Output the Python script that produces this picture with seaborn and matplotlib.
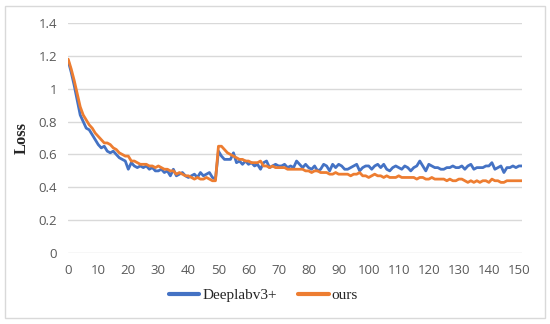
import pandas as pd
import matplotlib.pyplot as plt
import seaborn as sns
from matplotlib.patches import Rectangle

# loss per epoch (epochs 0..151)
deeplab_loss = [
    1.17, 1.10, 1.02, 0.93, 0.84, 0.80, 0.76, 0.75, 0.72, 0.69,
    0.66, 0.64, 0.65, 0.62, 0.61, 0.62, 0.60, 0.58, 0.57, 0.56,
    0.51, 0.55, 0.53, 0.52, 0.53, 0.52, 0.53, 0.51, 0.52, 0.50,
    0.50, 0.51, 0.49, 0.50, 0.47, 0.51, 0.47, 0.48, 0.49, 0.47,
    0.46, 0.47, 0.48, 0.46, 0.49, 0.47, 0.48, 0.49, 0.46, 0.45,
    0.62, 0.59, 0.57, 0.57, 0.57, 0.61, 0.55, 0.56, 0.54, 0.56,
    0.54, 0.55, 0.53, 0.54, 0.51, 0.55, 0.56, 0.52, 0.53, 0.54,
    0.53, 0.53, 0.54, 0.52, 0.53, 0.52, 0.56, 0.54, 0.52, 0.54,
    0.52, 0.51, 0.53, 0.50, 0.51, 0.54, 0.53, 0.50, 0.54, 0.52,
    0.54, 0.53, 0.51, 0.51, 0.52, 0.53, 0.54, 0.50, 0.52, 0.53,
    0.53, 0.51, 0.53, 0.54, 0.52, 0.54, 0.51, 0.50, 0.52, 0.53,
    0.52, 0.51, 0.53, 0.52, 0.50, 0.52, 0.53, 0.56, 0.53, 0.50,
    0.54, 0.53, 0.52, 0.52, 0.51, 0.51, 0.52, 0.52, 0.53, 0.52,
    0.52, 0.53, 0.51, 0.53, 0.54, 0.51, 0.52, 0.52, 0.52, 0.53,
    0.53, 0.55, 0.51, 0.52, 0.53, 0.49, 0.52, 0.52, 0.53, 0.52,
    0.53, 0.53,
]
ours_loss = [
    1.18, 1.12, 1.05, 0.97, 0.89, 0.84, 0.81, 0.78, 0.76, 0.73,
    0.71, 0.69, 0.67, 0.67, 0.66, 0.64, 0.63, 0.61, 0.60, 0.59,
    0.59, 0.56, 0.56, 0.55, 0.54, 0.54, 0.54, 0.53, 0.53, 0.52,
    0.53, 0.52, 0.51, 0.51, 0.50, 0.50, 0.48, 0.49, 0.48, 0.47,
    0.47, 0.46, 0.45, 0.46, 0.45, 0.45, 0.46, 0.45, 0.44, 0.44,
    0.65, 0.65, 0.63, 0.61, 0.60, 0.59, 0.58, 0.57, 0.57, 0.56,
    0.56, 0.55, 0.55, 0.55, 0.56, 0.53, 0.53, 0.52, 0.53, 0.52,
    0.52, 0.52, 0.52, 0.51, 0.51, 0.51, 0.51, 0.51, 0.51, 0.50,
    0.50, 0.49, 0.50, 0.50, 0.49, 0.49, 0.49, 0.48, 0.48, 0.49,
    0.48, 0.48, 0.48, 0.48, 0.47, 0.48, 0.48, 0.49, 0.47, 0.47,
    0.46, 0.47, 0.48, 0.47, 0.47, 0.46, 0.47, 0.46, 0.46, 0.46,
    0.47, 0.46, 0.46, 0.46, 0.46, 0.46, 0.45, 0.46, 0.46, 0.45,
    0.45, 0.46, 0.45, 0.45, 0.45, 0.45, 0.44, 0.45, 0.44, 0.44,
    0.45, 0.45, 0.44, 0.43, 0.44, 0.43, 0.44, 0.43, 0.44, 0.44,
    0.43, 0.45, 0.44, 0.44, 0.43, 0.43, 0.44, 0.44, 0.44, 0.44,
    0.44, 0.44,
]
series_names = ['Deeplabv3+', 'ours']
series_colors = ['#4472C4', '#ED7D31']
x_ticks = list(range(0, 151, 10))
y_ticks = [0, 0.2, 0.4, 0.6, 0.8, 1.0, 1.2, 1.4]
y_tick_labels = ['0', '0.2', '0.4', '0.6', '0.8', '1', '1.2', '1.4']

epochs = list(range(len(deeplab_loss)))
df = pd.concat([
    pd.DataFrame({'epoch': epochs, 'loss': deeplab_loss, 'model': series_names[0]}),
    pd.DataFrame({'epoch': epochs, 'loss': ours_loss, 'model': series_names[1]}),
])

sns.set_style('white')
fig = plt.figure(figsize=(5.5, 3.24), dpi=100)
ax = fig.add_axes([0.124, 0.219, 0.825, 0.71])

# light frame around the whole chart, like the Excel chart area
fig.patches.append(Rectangle((5 / 550, 6 / 324), 540 / 550, 312 / 324,
                             transform=fig.transFigure, fill=False,
                             edgecolor='#d9d9d9', linewidth=1.0))

sns.lineplot(data=df, x='epoch', y='loss', hue='model',
             palette=series_colors, linewidth=2.0, ax=ax, legend=True)

ax.set_xlim(0, 151)
ax.set_ylim(0, 1.4)
ax.set_xticks(x_ticks)
ax.set_yticks(y_ticks)
ax.set_yticklabels(y_tick_labels)
ax.yaxis.grid(True, color='#d9d9d9', linewidth=1.0)
ax.set_axisbelow(True)
for side in ['top', 'right', 'left', 'bottom']:
    ax.spines[side].set_visible(False)
ax.tick_params(axis='both', length=0, labelsize=9.5, labelcolor='#595959', pad=8)
for lbl in ax.get_xticklabels() + ax.get_yticklabels():
    lbl.set_family('Open Sans')

ax.set_xlabel('')
ax.set_ylabel('Loss', family='Liberation Serif', fontweight='bold',
              fontsize=12, labelpad=6)

ax.legend(loc='upper center', bbox_to_anchor=(0.43, -0.095), ncol=2,
          frameon=False, handlelength=2.0, handletextpad=0.2,
          columnspacing=1.4, prop={'family': 'Liberation Serif', 'size': 11})
for line in ax.get_legend().get_lines():
    line.set_linewidth(3.0)

fig.savefig('out.png', dpi=100)
